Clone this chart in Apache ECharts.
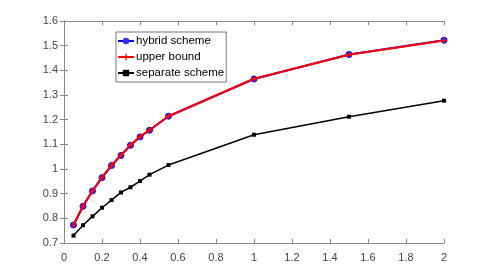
<!DOCTYPE html>
<html><head><meta charset="utf-8">
<script src="https://cdn.jsdelivr.net/npm/echarts@6/dist/echarts.min.js"></script>
<style>html,body{margin:0;padding:0;background:#fff}#c{width:491px;height:273px}</style>
</head><body><div id="c"></div>
<script>
const xValues = [0.05,0.1,0.15,0.2,0.25,0.3,0.35,0.4,0.45,0.55,1,1.5,2];
const hybridScheme = [0.773,0.849,0.911,0.965,1.014,1.055,1.096,1.13,1.157,1.214,1.365,1.464,1.522];
const upperBound   = [0.772,0.850,0.912,0.966,1.015,1.056,1.097,1.131,1.158,1.214,1.366,1.463,1.521];
const separateScheme = [0.730,0.772,0.808,0.843,0.874,0.905,0.926,0.951,0.977,1.016,1.139,1.212,1.277];
const seriesNames = ['hybrid scheme','upper bound','separate scheme'];
const xTicks = {min:0,max:2,interval:0.2};
const yTicks = {min:0.7,max:1.6,interval:0.1};

const pair = (ys) => xValues.map((x,i)=>[x,ys[i]]);
const font = "'Liberation Sans Narrow','Liberation Sans',Arial,sans-serif";
const axisColor = '#888';
const labelColor = '#444';
function fmt(v){return String(Math.round(v*10)/10);}
const chart = echarts.init(document.getElementById('c'));
chart.setOption({
  animation:false,
  backgroundColor:'#fff',
  grid:{left:64,right:47,top:21,bottom:30,containLabel:false},
  legend:{
    orient:'vertical', left:116, top:32,
    data:seriesNames,
    itemWidth:16,itemHeight:8,itemGap:4,
    padding:[3,2,3,1],
    borderColor:'#777',borderWidth:1,backgroundColor:'#fff',
    textStyle:{fontFamily:font,fontSize:11.5,color:'#000',padding:[0,0,0,-3]}
  },
  xAxis:[
    {type:'value',min:xTicks.min,max:xTicks.max,interval:xTicks.interval,position:'bottom',
     axisLine:{lineStyle:{color:axisColor}},axisTick:{inside:true,length:4,lineStyle:{color:axisColor}},
     splitLine:{show:false},
     axisLabel:{formatter:fmt,fontFamily:font,fontSize:11,color:labelColor,margin:9}},
    {type:'value',min:xTicks.min,max:xTicks.max,interval:xTicks.interval,position:'top',
     axisLine:{lineStyle:{color:axisColor}},axisTick:{inside:true,length:4,lineStyle:{color:axisColor}},
     splitLine:{show:false},axisLabel:{show:false}}
  ],
  yAxis:[
    {type:'value',min:yTicks.min,max:yTicks.max,interval:yTicks.interval,position:'left',
     axisLine:{show:true,lineStyle:{color:axisColor}},axisTick:{show:true,inside:true,length:4,lineStyle:{color:axisColor}},
     splitLine:{show:false},
     axisLabel:{formatter:fmt,fontFamily:font,fontSize:11,color:labelColor,margin:6}},
    {type:'value',min:yTicks.min,max:yTicks.max,interval:yTicks.interval,position:'right',
     axisLine:{show:true,lineStyle:{color:axisColor}},axisTick:{show:true,inside:true,length:4,lineStyle:{color:axisColor}},
     splitLine:{show:false},axisLabel:{show:false}}
  ],
  series:[
    {name:seriesNames[0],type:'line',data:pair(hybridScheme),symbol:'circle',symbolSize:6,
     lineStyle:{color:'#0000ff',width:2},itemStyle:{color:'#3030ff',borderColor:'#0000ff'},z:2},
    {name:seriesNames[1],type:'line',data:pair(upperBound),
     symbol:'path://M4,0H6V4H10V6H6V10H4V6H0V4H4Z',symbolSize:6,
     lineStyle:{color:'#ff0000',width:2},itemStyle:{color:'#ff0000'},z:3},
    {name:seriesNames[2],type:'line',data:pair(separateScheme),symbol:'rect',symbolSize:4,
     lineStyle:{color:'#000',width:1.5},itemStyle:{color:'#000'},z:2}
  ]
});
</script></body></html>
